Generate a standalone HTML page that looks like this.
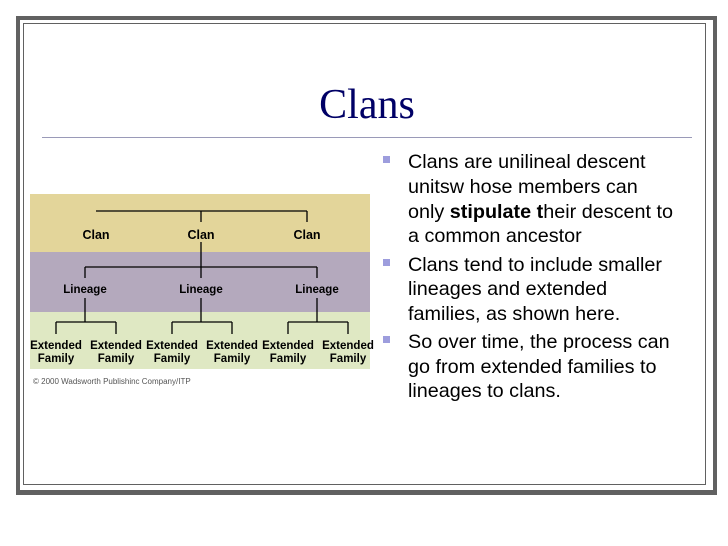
<!DOCTYPE html>
<html><head><style>
body{margin:0;width:728px;height:546px;background:#fff;position:relative;overflow:hidden;font-family:"Liberation Sans",Arial,sans-serif}
.outer{position:absolute;left:16px;top:16px;width:693px;height:470px;border:4px solid #616161;border-bottom-width:5px}
.inner{position:absolute;left:23px;top:23px;width:681px;height:460px;border:1px solid #616161}
.title{position:absolute;left:0;width:734px;top:81px;text-align:center;font-family:"Liberation Serif",serif;font-size:42px;color:#000066}
.rule{position:absolute;left:42px;top:137px;width:650px;height:1px;background:#9a9ab8}
.t{position:absolute;left:408px;font-size:19.8px;color:#000;white-space:nowrap;line-height:20px}
.b{position:absolute;left:383px;width:7px;height:7px;background:#9d9ddd}
</style></head><body>
<div class="outer"></div><div class="inner"></div>
<div class="title">Clans</div>
<div class="rule"></div>
<div class="b" style="top:156px"></div>
<div class="t" style="top:152px">Clans are unilineal descent</div>
<div class="t" style="top:177px">unitsw hose members can</div>
<div class="t" style="top:202px">only <b>stipulate t</b>heir descent to</div>
<div class="t" style="top:226px">a common ancestor</div>
<div class="b" style="top:259px"></div>
<div class="t" style="top:255px">Clans tend to include smaller</div>
<div class="t" style="top:279px">lineages and extended</div>
<div class="t" style="top:304px">families, as shown here.</div>
<div class="b" style="top:336px"></div>
<div class="t" style="top:332px">So over time, the process can</div>
<div class="t" style="top:357px">go from extended families to</div>
<div class="t" style="top:381px">lineages to clans.</div>
<svg style="position:absolute;left:0;top:0" width="728" height="546">
<rect x="30" y="194" width="340" height="58" fill="#e3d59a"/>
<rect x="30" y="252" width="340" height="60" fill="#b4a9bd"/>
<rect x="30" y="312" width="340" height="57" fill="#dfe8c3"/>
<g stroke="#000" stroke-width="1.3" fill="none">
<path d="M96 211H307M201 211V222M307 211V222"/>
<path d="M201 242V267M85 267H317M85 267V278M201 267V278M317 267V278"/>
<path d="M85 298V322M201 298V322M317 298V322"/>
<path d="M56 322H116M56 322V334M116 322V334"/>
<path d="M172 322H232M172 322V334M232 322V334"/>
<path d="M288 322H348M288 322V334M348 322V334"/>
</g>
<g font-family="Liberation Sans,Arial,sans-serif" font-size="12.5" font-weight="bold" fill="#000" text-anchor="middle">
<text x="96" y="239">Clan</text><text x="201" y="239">Clan</text><text x="307" y="239">Clan</text>
<text x="85" y="293" font-size="11.5">Lineage</text><text x="201" y="293" font-size="11.5">Lineage</text><text x="317" y="293" font-size="11.5">Lineage</text>
<g font-size="11.5">
<text x="56" y="349">Extended</text><text x="116" y="349">Extended</text><text x="172" y="349">Extended</text><text x="232" y="349">Extended</text><text x="288" y="349">Extended</text><text x="348" y="349">Extended</text>
<text x="56" y="362">Family</text><text x="116" y="362">Family</text><text x="172" y="362">Family</text><text x="232" y="362">Family</text><text x="288" y="362">Family</text><text x="348" y="362">Family</text>
</g>
</g>
<text x="33" y="384" font-family="Liberation Sans,Arial,sans-serif" font-size="8" fill="#555">© 2000 Wadsworth Publishinc Company/ITP</text>
</svg>
</body></html>
